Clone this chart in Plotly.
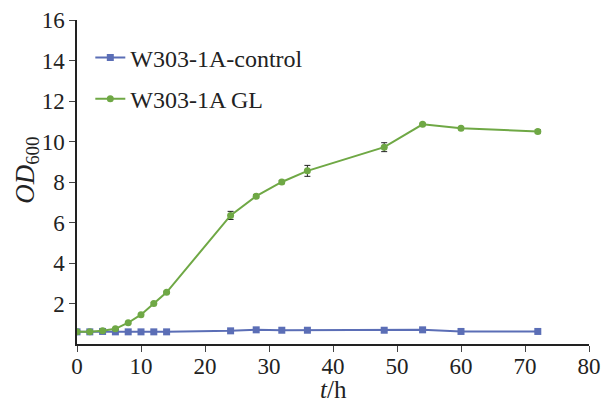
import plotly.graph_objects as go

t = [0, 2, 4, 6, 8, 10, 12, 14, 24, 28, 32, 36, 48, 54, 60, 72]
control = [0.6, 0.6, 0.62, 0.6, 0.6, 0.6, 0.6, 0.6, 0.65, 0.7, 0.68, 0.68, 0.68, 0.7, 0.62, 0.62]
control_err = [0.02] * 16
gl = [0.6, 0.6, 0.65, 0.75, 1.05, 1.45, 2.0, 2.55, 6.35, 7.3, 8.0, 8.55, 9.72, 10.85, 10.65, 10.5]
gl_err = [0.03, 0.03, 0.03, 0.03, 0.05, 0.05, 0.05, 0.05, 0.2, 0.08, 0.08, 0.27, 0.22, 0.05, 0.05, 0.08]

y_ticks = [2, 4, 6, 8, 10, 12, 14, 16]
x_ticks = [0, 10, 20, 30, 40, 50, 60, 70, 80]

blue = "#5b6eb6"
green = "#6fa845"
font = "Liberation Serif"

fig = go.Figure()
fig.add_trace(go.Scatter(
    x=t, y=control, name="W303-1A-control", mode="lines+markers", legend="legend",
    line=dict(color=blue, width=2), marker=dict(symbol="square", size=7, color=blue),
    error_y=dict(type="data", array=control_err, color="#222", thickness=1, width=3),
))
fig.add_trace(go.Scatter(
    x=t, y=gl, name="W303-1A GL", mode="lines+markers", legend="legend2",
    line=dict(color=green, width=2), marker=dict(symbol="circle", size=7, color=green),
    error_y=dict(type="data", array=gl_err, color="#222", thickness=1, width=3),
))

leg_common = dict(xanchor="left", yanchor="middle", bgcolor="rgba(0,0,0,0)",
                  font=dict(family=font, size=24, color="#222"), itemwidth=30)

fig.update_layout(
    width=605, height=394,
    margin=dict(l=69, r=24, t=12, b=58),
    plot_bgcolor="white", paper_bgcolor="white",
    font=dict(family=font, size=23, color="#222"),
    showlegend=True,
    legend=dict(x=0.026, y=0.883, **leg_common),
    legend2=dict(x=0.026, y=0.756, **leg_common),
    xaxis=dict(range=[0, 80], tickvals=x_ticks, ticks="outside", ticklen=6,
               showline=True, linecolor="#222", linewidth=1.5, showgrid=False, zeroline=False,
               automargin=False, tickfont=dict(size=23), ticklabelstandoff=-5,
               ticklabeloverflow="allow"),
    yaxis=dict(range=[0, 16], tickvals=y_ticks, ticks="outside", ticklen=6,
               showline=True, linecolor="#222", linewidth=1.5, showgrid=False, zeroline=False,
               automargin=False, tickfont=dict(size=23), ticklabeloverflow="allow"),
    annotations=[
        dict(text="<i>t</i>/h", xref="paper", yref="paper", x=0.5, y=-0.14,
             xanchor="center", yanchor="middle", showarrow=False, font=dict(size=25)),
        dict(text="<i>OD</i><sub>600</sub>", xref="paper", yref="paper", x=-0.098, y=0.537,
             xanchor="center", yanchor="middle", textangle=-90, showarrow=False, font=dict(size=27)),
    ],
)

fig.write_html("out.html")
